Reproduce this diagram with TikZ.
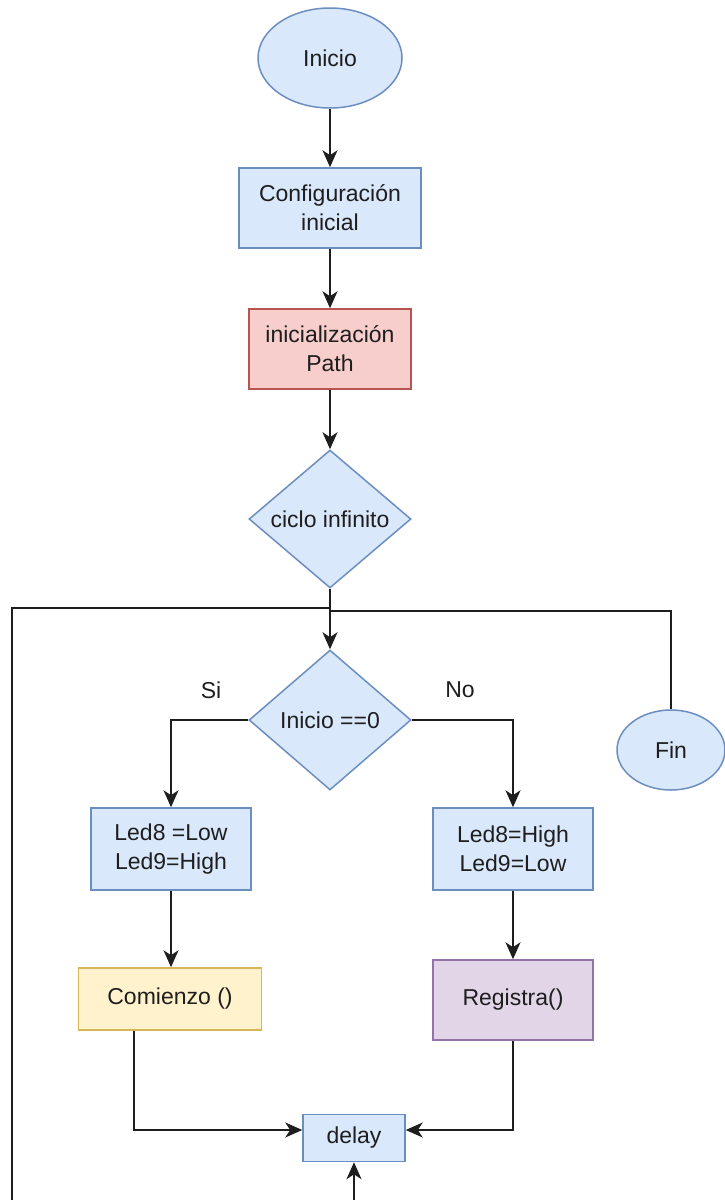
\documentclass[tikz,border=0pt]{standalone}
\usepackage{fontspec}
\setmainfont{Liberation Sans}
\usetikzlibrary{shapes.geometric,arrows.meta}
\definecolor{bluefill}{HTML}{DAE8FC}
\definecolor{bluedraw}{HTML}{6C8EBF}
\definecolor{redfill}{HTML}{F8CECC}
\definecolor{reddraw}{HTML}{B85450}
\definecolor{yellowfill}{HTML}{FFF2CC}
\definecolor{yellowdraw}{HTML}{D6B656}
\definecolor{purplefill}{HTML}{E1D5E7}
\definecolor{purpledraw}{HTML}{9673A6}
\definecolor{ink}{HTML}{1E1E1E}
\tikzset{
  base/.style={draw, line width=1.5pt, align=center, inner sep=0pt, text=ink,
    font=\fontsize{23}{29}\selectfont},
  bluebox/.style={base, rectangle, fill=bluefill, draw=bluedraw},
  redbox/.style={base, rectangle, fill=redfill, draw=reddraw},
  yellowbox/.style={base, rectangle, fill=yellowfill, draw=yellowdraw},
  purplebox/.style={base, rectangle, fill=purplefill, draw=purpledraw},
  terminal/.style={base, ellipse, fill=bluefill, draw=bluedraw},
  decision/.style={base, diamond, fill=bluefill, draw=bluedraw},
  flow/.style={draw=ink, line width=2pt, -{Stealth[length=17pt,width=15pt,inset=5pt]}},
  plain/.style={draw=ink, line width=2pt},
  tag/.style={text=ink, font=\fontsize{23}{29}\selectfont, inner sep=0pt}
}
\begin{document}
\begin{tikzpicture}[x=1pt,y=-1pt]
\useasboundingbox (0,0) rectangle (725,1200);

% main column
\node[terminal, minimum width=144pt, minimum height=100pt] (inicio) at (330,58) {Inicio};
\node[bluebox, minimum width=182pt, minimum height=80pt] (config) at (330,208) {Configuración\\inicial};
\node[redbox, minimum width=162pt, minimum height=80pt] (path) at (330,349) {inicialización\\Path};
\node[decision, minimum width=162pt, minimum height=138pt,
      label={[tag]center:ciclo infinito}] (ciclo) at (330,519) {};
\node[decision, minimum width=162pt, minimum height=140pt,
      label={[tag]center:Inicio ==0}] (cond) at (330,720) {};
\node[terminal, minimum width=108pt, minimum height=80pt] (fin) at (671,750) {Fin};

% branches
\node[bluebox, minimum width=160pt, minimum height=82pt] (ledA) at (171,849) {Led8 =Low\\Led9=High};
\node[bluebox, minimum width=160pt, minimum height=82pt] (ledB) at (513,849) {Led8=High\\Led9=Low};
\node[yellowbox, minimum width=183pt, minimum height=62pt] (comienzo) at (170,999) {Comienzo ()};
\node[purplebox, minimum width=160pt, minimum height=80pt] (registra) at (513,1000) {Registra()};
\node[bluebox, minimum width=102pt, minimum height=47pt] (delay) at (354,1138) {delay};

\node[tag] (si) at (211,690) {Si};
\node[tag] (no) at (460,690) {No};

% loop return points
\coordinate (jl) at (330,608);
\coordinate (jr) at (330,611);
\coordinate (loopfoot) at (12,1200);
\coordinate (delayfoot) at (354,1200);
\coordinate (delayin) at ([yshift=8pt]delay.west);
\coordinate (delayinr) at ([yshift=8pt]delay.east);
\coordinate (comout) at ([xshift=-36pt]comienzo.south);

% connectors
\draw[flow] (inicio) -- (config);
\draw[flow] (config) -- (path);
\draw[flow] (path) -- (ciclo);
\draw[flow] (ciclo) -- (cond);
\draw[flow] (cond.west) -| (ledA.north);
\draw[flow] (cond.east) -| (ledB.north);
\draw[flow] (ledA.south) -- (ledA.south |- comienzo.north);
\draw[flow] (ledB) -- (registra);
\draw[flow] (comout) |- (delayin);
\draw[flow] (registra.south) |- (delayinr);
\draw[flow] (delayfoot) -- (delay.south);
\draw[plain] (loopfoot) |- (jl);
\draw[plain] (jr) -| (fin.north);
\end{tikzpicture}
\end{document}
